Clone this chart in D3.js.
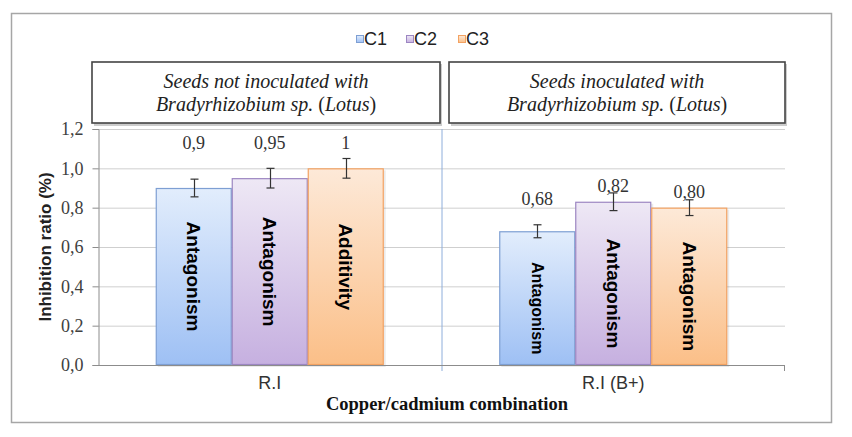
<!DOCTYPE html>
<html><head><meta charset="utf-8">
<script src="https://cdn.jsdelivr.net/npm/d3@7"></script>
<style>body{margin:0;background:#fff}</style>
</head><body>
<script>
const categories = ["R.I", "R.I (B+)"];
const series = ["C1", "C2", "C3"];
const c1 = [0.90, 0.68];
const c2 = [0.95, 0.83];
const c3 = [1.00, 0.80];
const err1 = [0.045, 0.033];
const err2 = [0.05, 0.045];
const err3 = [0.05, 0.04];
const valueText1 = ["0,9", "0,68"];
const valueText2 = ["0,95", "0,82"];
const valueText3 = ["1", "0,80"];
const labelLevel1 = [1.13, 0.845];
const labelLevel2 = [1.13, 0.91];
const labelLevel3 = [1.13, 0.88];
const effect1 = ["Antagonism", "Antagonism"];
const effect2 = ["Antagonism", "Antagonism"];
const effect3 = ["Additivity", "Antagonism"];
const yTicks = [0, 0.2, 0.4, 0.6, 0.8, 1.0, 1.2];
const panelTitles = [["Seeds not inoculated with", "Bradyrhizobium sp."], ["Seeds inoculated with", "Bradyrhizobium sp."]];

const W = 852, H = 437;
const svg = d3.select("body").append("svg").attr("width", W).attr("height", H);
const defs = svg.append("defs");
const palette = {
  C1: {top: "#e2edfc", bot: "#9ec0f4", stroke: "#7e9fd3"},
  C2: {top: "#eee8f5", bot: "#c6b0e0", stroke: "#9c86c2"},
  C3: {top: "#fde9d8", bot: "#fbbf88", stroke: "#f3a262"}
};
series.forEach(s => {
  const g = defs.append("linearGradient").attr("id", "g" + s).attr("x1", 0).attr("y1", 0).attr("x2", 0).attr("y2", 1);
  g.append("stop").attr("offset", "0%").attr("stop-color", palette[s].top);
  g.append("stop").attr("offset", "100%").attr("stop-color", palette[s].bot);
});

// outer frame
svg.append("rect").attr("x", 11.5).attr("y", 13.5).attr("width", 820).attr("height", 409)
  .attr("fill", "#fff").attr("stroke", "#a6a6a6").attr("stroke-width", 1.5);

const pLeft = 98, pRight = 785, pTop = 129, pBottom = 365;
const x0 = d3.scaleBand().domain(categories).range([pLeft, pRight]).padding(0);
const x1 = d3.scaleBand().domain(series).range([0, x0.bandwidth()]).paddingInner(0).paddingOuter(0.76);
const y = d3.scaleLinear().domain([0, 1.2]).range([pBottom, pTop]);

// gridlines
svg.append("g").selectAll("line").data(yTicks.filter(d => d > 0)).join("line")
  .attr("x1", pLeft).attr("x2", pRight).attr("y1", d => y(d) + 0.5).attr("y2", d => y(d) + 0.5)
  .attr("stroke", "#cfcfcf").attr("stroke-width", 1);

// y axis
const yAxis = svg.append("g").attr("transform", `translate(${pLeft + 0.5},0)`)
  .call(d3.axisLeft(y).tickValues(yTicks).tickSize(6).tickPadding(9).tickFormat(d => d3.format(".1f")(d).replace(".", ",")));
yAxis.attr("font-family", null).attr("font-size", null);
yAxis.select(".domain").attr("stroke", "#8c8c8c");
yAxis.selectAll(".tick line").attr("stroke", "#8c8c8c");
yAxis.selectAll("text").style("font-family", "'Liberation Serif', serif").style("font-size", "18px").attr("fill", "#404040");

// divider between panels
svg.append("line").attr("x1", x0(categories[1]) + 0.5).attr("x2", x0(categories[1]) + 0.5)
  .attr("y1", pTop).attr("y2", pBottom + 6).attr("stroke", "#8eaedb").attr("stroke-width", 1);

// bars
const seriesData = [
  {s: "C1", v: c1, e: err1, t: valueText1, l: labelLevel1, f: effect1},
  {s: "C2", v: c2, e: err2, t: valueText2, l: labelLevel2, f: effect2},
  {s: "C3", v: c3, e: err3, t: valueText3, l: labelLevel3, f: effect3}
];
const rows = [];
seriesData.forEach(sd => categories.forEach((c, i) => rows.push({
  cat: c, s: sd.s, v: sd.v[i], e: sd.e[i], t: sd.t[i], l: sd.l[i], f: sd.f[i], i
})));

const bars = svg.append("g");
bars.selectAll("rect.shadow").data(rows).join("rect").attr("class", "shadow")
  .attr("x", d => x0(d.cat) + x1(d.s) + 2).attr("y", d => y(d.v) + 2)
  .attr("width", x1.bandwidth()).attr("height", d => y(0) - y(d.v))
  .attr("fill", "#000").attr("opacity", 0.08);
bars.selectAll("rect.bar").data(rows).join("rect").attr("class", "bar")
  .attr("x", d => x0(d.cat) + x1(d.s) + 0.5).attr("y", d => y(d.v) + 0.5)
  .attr("width", x1.bandwidth() - 1).attr("height", d => y(0) - y(d.v) - 1)
  .attr("fill", d => `url(#g${d.s})`).attr("stroke", d => palette[d.s].stroke).attr("stroke-width", 1.2);

// x axis line
svg.append("line").attr("x1", pLeft).attr("x2", pRight).attr("y1", pBottom + 0.5).attr("y2", pBottom + 0.5)
  .attr("stroke", "#8c8c8c");
svg.append("line").attr("x1", pRight - 0.5).attr("x2", pRight - 0.5).attr("y1", pBottom).attr("y2", pBottom + 6).attr("stroke", "#8c8c8c");

// error bars
const eb = svg.append("g").attr("stroke", "#333").attr("stroke-width", 1.2);
rows.forEach(d => {
  const cx = Math.round(x0(d.cat) + x1(d.s) + x1.bandwidth() / 2) + 0.5;
  eb.append("line").attr("x1", cx).attr("x2", cx).attr("y1", y(d.v + d.e)).attr("y2", y(d.v - d.e));
  eb.append("line").attr("x1", cx - 4).attr("x2", cx + 4).attr("y1", y(d.v + d.e)).attr("y2", y(d.v + d.e));
  eb.append("line").attr("x1", cx - 4).attr("x2", cx + 4).attr("y1", y(d.v - d.e)).attr("y2", y(d.v - d.e));
});

// value labels
svg.append("g").selectAll("text").data(rows).join("text")
  .attr("x", d => x0(d.cat) + x1(d.s) + x1.bandwidth() / 2)
  .attr("y", d => y(d.l)).attr("dy", "0.35em").attr("text-anchor", "middle")
  .style("font-family", "'Liberation Serif', serif").style("font-size", "18px").attr("fill", "#333")
  .text(d => d.t);

// effect labels inside bars
svg.append("g").selectAll("text").data(rows).join("text")
  .attr("transform", d => {
    const cx = x0(d.cat) + x1(d.s) + x1.bandwidth() / 2;
    const cy = (y(d.v) + y(0)) / 2 + (d.i === 0 ? 0 : 10);
    return `translate(${cx},${cy}) rotate(90)`;
  })
  .attr("text-anchor", "middle").attr("dy", "0.35em")
  .style("font-family", "'Liberation Sans', Arial, sans-serif").attr("font-weight", "bold")
  .style("font-size", d => ((d.i === 1 && d.s === "C1") ? 16 : 19) + "px").attr("fill", "#000")
  .text(d => d.f);

// category labels
svg.append("g").selectAll("text").data(categories).join("text")
  .attr("x", d => x0(d) + x0.bandwidth() / 2).attr("y", 383).attr("dy", "0.35em")
  .attr("text-anchor", "middle").style("font-family", "'Liberation Sans', Arial, sans-serif")
  .style("font-size", "18px").attr("fill", "#333").text(d => d);

// axis titles
svg.append("text").attr("x", 447).attr("y", 404).attr("dy", "0.35em").attr("text-anchor", "middle")
  .style("font-family", "'Liberation Serif', serif").attr("font-weight", "bold").style("font-size", "18.5px")
  .attr("fill", "#111").text("Copper/cadmium combination");
svg.append("text").attr("transform", "translate(45,247) rotate(-90)").attr("dy", "0.35em").attr("text-anchor", "middle")
  .style("font-family", "'Liberation Sans', Arial, sans-serif").attr("font-weight", "bold").style("font-size", "17px")
  .attr("fill", "#222").text("Inhibition ratio (%)");

// panel title boxes
const boxes = [[92, 440], [449, 785]];
boxes.forEach((b, i) => {
  svg.append("rect").attr("x", b[0] + 2).attr("y", 64).attr("width", b[1] - b[0]).attr("height", 62).attr("fill", "#ccc");
  svg.append("rect").attr("x", b[0]).attr("y", 62).attr("width", b[1] - b[0]).attr("height", 61)
    .attr("fill", "#fff").attr("stroke", "#444").attr("stroke-width", 1.6);
  const cx = (b[0] + b[1]) / 2;
  svg.append("text").attr("x", cx).attr("y", 81).attr("dy", "0.35em").attr("text-anchor", "middle")
    .style("font-family", "'Liberation Serif', serif").attr("font-style", "italic").style("font-size", "20px").attr("fill", "#222")
    .text(panelTitles[i][0]);
  const t2 = svg.append("text").attr("x", cx).attr("y", 104).attr("dy", "0.35em").attr("text-anchor", "middle")
    .style("font-family", "'Liberation Serif', serif").style("font-size", "20px").attr("fill", "#222");
  t2.append("tspan").attr("font-style", "italic").text(panelTitles[i][1] + " ");
  t2.append("tspan").text("(");
  t2.append("tspan").attr("font-style", "italic").text("Lotus");
  t2.append("tspan").text(")");
});

// legend
const lg = svg.append("g");
const legendX = [356, 406, 458];
series.forEach((s, i) => {
  lg.append("rect").attr("x", legendX[i] + 0.5).attr("y", 35.5).attr("width", 7).attr("height", 7)
    .attr("fill", `url(#g${s})`).attr("stroke", palette[s].stroke);
  lg.append("text").attr("x", legendX[i] + 8).attr("y", 39).attr("dy", "0.35em")
    .style("font-family", "'Liberation Sans', Arial, sans-serif").style("font-size", "18px").attr("fill", "#222").text(s);
});
</script>
</body></html>
